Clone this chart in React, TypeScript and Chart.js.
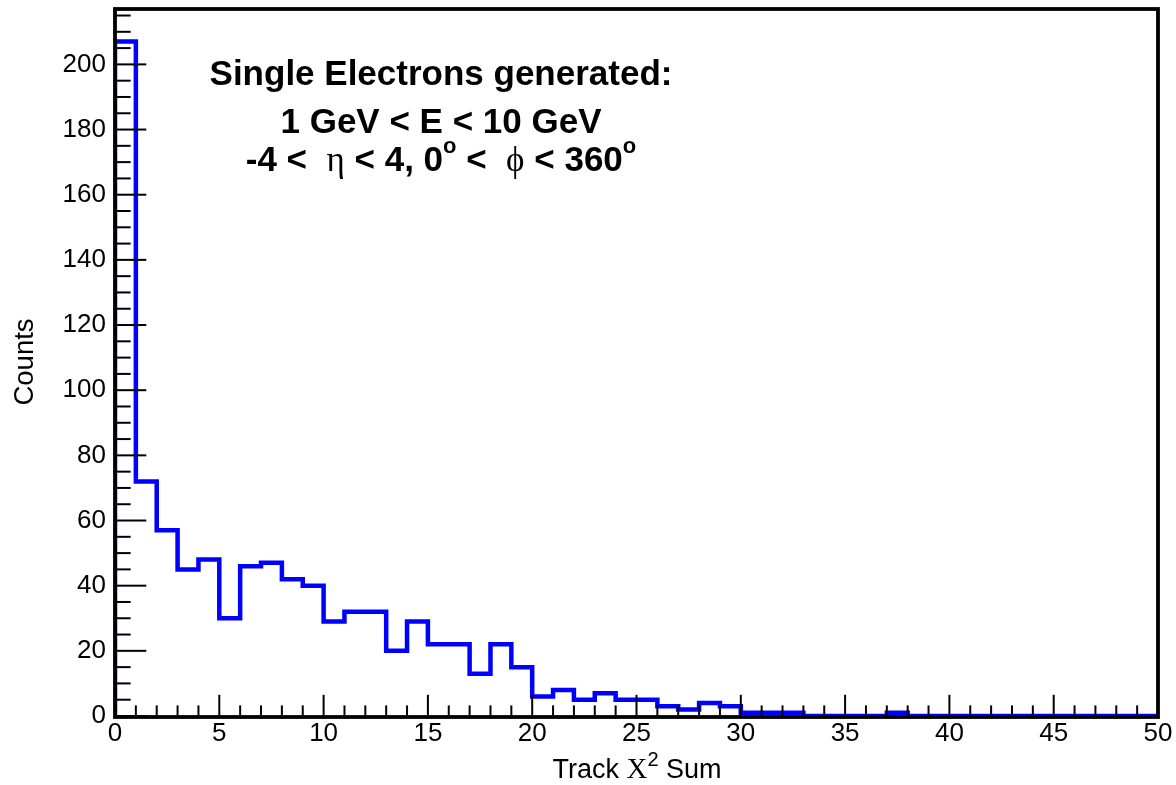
import React, { useEffect, useRef } from "react";
import { Chart, registerables } from "chart.js";

Chart.register(...registerables);

// Bin low edges (bin width 1) and counts per bin
const binLowEdges = [
  0, 1, 2, 3, 4, 5, 6, 7, 8, 9,
  10, 11, 12, 13, 14, 15, 16, 17, 18, 19,
  20, 21, 22, 23, 24, 25, 26, 27, 28, 29,
  30, 31, 32, 33, 34, 35, 36, 37, 38, 39,
  40, 41, 42, 43, 44, 45, 46, 47, 48, 49,
];
const binWidth = 1;
const counts = [
  207, 72, 57, 45, 48, 30, 46, 47, 42, 40,
  29, 32, 32, 20, 29, 22, 22, 13, 22, 15,
  6, 8, 5, 7, 5, 5, 3, 2, 4, 3,
  1, 1, 1, 0, 0, 0, 0, 1, 0, 0,
  0, 0, 0, 0, 0, 0, 0, 0, 0, 0,
];

const xTickLabels = [0, 5, 10, 15, 20, 25, 30, 35, 40, 45, 50];
const yTickLabels = [0, 20, 40, 60, 80, 100, 120, 140, 160, 180, 200];

const annotationLines = [
  "Single Electrons generated:",
  "1 GeV < E < 10 GeV",
];

const SANS = "'Liberation Sans', Arial, sans-serif";
const SERIF = "'Liberation Serif', 'Times New Roman', serif";

type Seg = { text: string; font: string; dy?: number };

function drawRich(ctx: CanvasRenderingContext2D, segs: Seg[], cx: number, baseline: number) {
  let total = 0;
  const widths = segs.map((s) => {
    ctx.font = s.font;
    const w = ctx.measureText(s.text).width;
    total += w;
    return w;
  });
  let x = cx - total / 2;
  ctx.textAlign = "left";
  ctx.textBaseline = "alphabetic";
  segs.forEach((s, i) => {
    ctx.font = s.font;
    ctx.fillText(s.text, x, baseline + (s.dy || 0));
    x += widths[i];
  });
}

const framePlugin = {
  id: "rootFrame",
  afterDatasetsDraw(chart: any) {
    const ctx: CanvasRenderingContext2D = chart.ctx;
    const { left, right, top, bottom } = chart.chartArea;
    const xs = chart.scales.x;
    const ys = chart.scales.y;
    ctx.save();
    ctx.strokeStyle = "#000";
    ctx.fillStyle = "#000";

    // inward ticks
    ctx.lineWidth = 2;
    const plotH = bottom - top;
    const plotW = right - left;
    for (let v = 0; v <= 50; v += 1) {
      const px = xs.getPixelForValue(v);
      const len = v % 5 === 0 ? plotH * 0.03 : plotH * 0.015;
      ctx.beginPath();
      ctx.moveTo(px, bottom);
      ctx.lineTo(px, bottom - len);
      ctx.stroke();
    }
    for (let v = 0; v <= ys.max; v += 5) {
      const py = ys.getPixelForValue(v);
      const len = v % 20 === 0 ? plotW * 0.03 : plotW * 0.015;
      ctx.beginPath();
      ctx.moveTo(left, py);
      ctx.lineTo(left + len, py);
      ctx.stroke();
    }

    // frame
    ctx.lineWidth = 3.8;
    ctx.strokeRect(left, top, right - left, bottom - top + 1);

    // annotation
    drawRich(ctx, [{ text: annotationLines[0], font: `bold 35px ${SANS}` }], 441, 85);
    drawRich(ctx, [{ text: annotationLines[1], font: `bold 35px ${SANS}` }], 441, 133);
    const B = `bold 35px ${SANS}`;
    const SUP = `bold 22px ${SANS}`;
    const G = `35px ${SERIF}`;
    drawRich(
      ctx,
      [
        { text: "-4 <  ", font: B },
        { text: "η", font: G },
        { text: " < 4, 0", font: B },
        { text: "o", font: SUP, dy: -18 },
        { text: " <  ", font: B },
        { text: "ϕ", font: G },
        { text: " < 360", font: B },
        { text: "o", font: SUP, dy: -18 },
      ],
      441,
      171
    );

    // x title
    drawRich(
      ctx,
      [
        { text: "Track ", font: `27px ${SANS}` },
        { text: "Χ", font: `29px ${SERIF}` },
        { text: "2", font: `20px ${SANS}`, dy: -12 },
        { text: " Sum", font: `27px ${SANS}` },
      ],
      637,
      778
    );

    // y title
    ctx.translate(33, 362);
    ctx.rotate(-Math.PI / 2);
    ctx.font = `27.5px ${SANS}`;
    ctx.textAlign = "center";
    ctx.textBaseline = "alphabetic";
    ctx.fillText("Counts", 0, 0);
    ctx.restore();
  },
};

export default function App() {
  const ref = useRef<HTMLCanvasElement | null>(null);
  useEffect(() => {
    if (!ref.current) return;
    const points: { x: number; y: number }[] = [{ x: binLowEdges[0], y: 0 }];
    binLowEdges.forEach((e, i) => points.push({ x: e, y: counts[i] }));
    const lastEdge = binLowEdges[binLowEdges.length - 1] + binWidth;
    points.push({ x: lastEdge, y: counts[counts.length - 1] });
    points.push({ x: lastEdge, y: 0 });

    const chart = new Chart(ref.current, {
      type: "line",
      data: {
        datasets: [
          {
            data: points,
            borderColor: "#0000ff",
            borderWidth: 4.5,
            stepped: "before",
            pointRadius: 0,
            fill: false,
            borderJoinStyle: "miter",
            borderCapStyle: "butt",
          } as any,
        ],
      },
      options: {
        animation: false,
        responsive: false,
        maintainAspectRatio: false,
        layout: { padding: { top: 9, right: 18, left: 0, bottom: 0 } },
        plugins: { legend: { display: false }, tooltip: { enabled: false }, title: { display: false } },
        scales: {
          x: {
            type: "linear",
            min: 0,
            max: 50,
            afterBuildTicks: (s: any) => {
              s.ticks = xTickLabels.map((v) => ({ value: v }));
            },
            ticks: {
              color: "#000",
              font: { family: SANS, size: 26 },
              padding: 2,
              maxRotation: 0,
              autoSkip: false,
            },
            grid: { display: false, drawTicks: false },
            border: { display: false },
            afterFit: (s: any) => {
              s.height = 69;
              s.paddingLeft = 0;
              s.paddingRight = 0;
              s.paddingTop = 0;
              s.paddingBottom = 0;
            },
          },
          y: {
            type: "linear",
            min: 0,
            max: 217,
            afterBuildTicks: (s: any) => {
              s.ticks = yTickLabels.map((v) => ({ value: v }));
            },
            ticks: {
              color: "#000",
              font: { family: SANS, size: 26 },
              padding: 9,
              autoSkip: false,
            },
            grid: { display: false, drawTicks: false },
            border: { display: false },
            afterFit: (s: any) => {
              s.width = 115;
              s.paddingLeft = 0;
              s.paddingRight = 0;
              s.paddingTop = 0;
              s.paddingBottom = 0;
            },
          },
        },
      },
      plugins: [framePlugin],
    });
    return () => chart.destroy();
  }, []);

  return (
    <div style={{ position: "absolute", left: 0, top: 0, width: 1176, height: 785, background: "#fff" }}>
      <canvas ref={ref} width={1176} height={785} style={{ display: "block" }} />
    </div>
  );
}
